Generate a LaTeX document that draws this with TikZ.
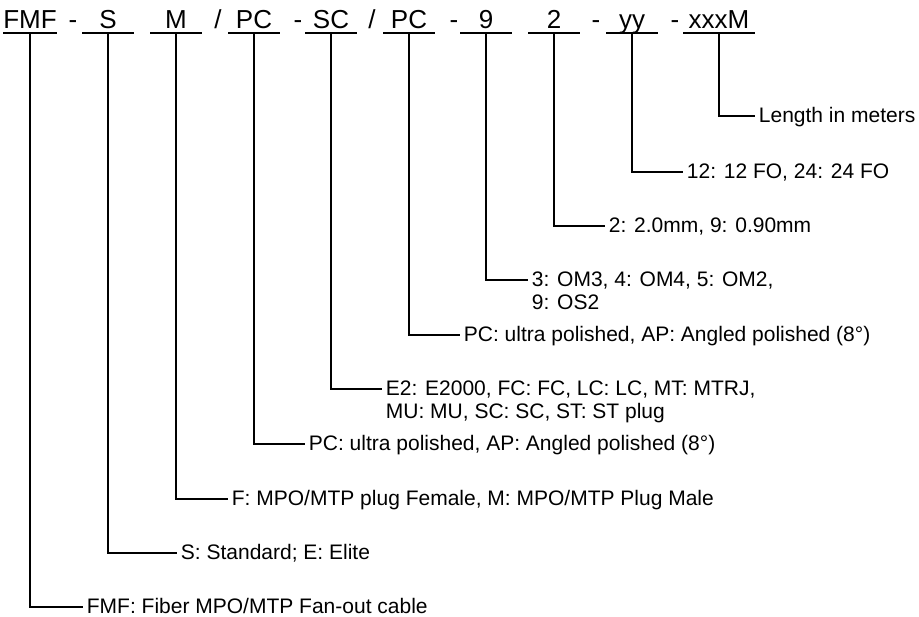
\documentclass[tikz,border=0pt]{standalone}
\usepackage{fontspec}
\setmainfont{Liberation Sans}
\usetikzlibrary{calc}
\usetikzlibrary{positioning}

\begin{document}
\begin{tikzpicture}[x=0.5pt, y=-0.5pt, line width=0.9pt]
    \tikzset{
        every node/.style={inner sep=0pt},
        code/.style={font=\fontsize{13}{15}\selectfont, anchor=base},
        desc/.style={font=\fontsize{10.5}{11.5}\selectfont, anchor=base west, align=left},
        twolines/.style={desc, yshift=-11.5pt}
    }
    \useasboundingbox (0,0) rectangle (919,616);

    % fields of the order code, underlined
    \foreach \n/\x/\w/\t in {fmf/30/27/FMF, std/108/26/S, gen/176/26/M, pa/254/26/PC, con/331/26/SC,
                             pb/409/26/PC, fib/486/26/9, dia/554/26/2, cnt/632/26/yy, len/719/36/xxxM} {
        \node [code] (\n) at (\x,28) {\t};
        \draw (\x-\w,33) -- (\x+\w,33);
        \coordinate (\n-top) at (\x,33);
    }

    \node [code] (s1) at (73,28) {-};
    \node [code] (s2) at (218,28) {/};
    \node [code] (s3) at (298,28) {-};
    \node [code] (s4) at (372,28) {/};
    \node [code] (s5) at (454,28) {-};
    \node [code] (s6) at (596,28) {-};
    \node [code] (s7) at (675,28) {-};

    % ends of the leaders
    \foreach \n/\x/\y in {len/755/116, cnt/683/172, dia/605/226, fib/528/280, pb/460/335,
                          con/382/389, pa/305/444, gen/228/499, std/177/553, fmf/83/607} {
        \coordinate (\n-end) at (\x,\y);
        \draw (\n-top) |- (\n-end);
    }

    \node [desc] (len-d) at ($(len-end)+(3,6)$) {Length in meters};
    \node [desc] (cnt-d) at ($(cnt-end)+(3,6)$) {12: 12 FO, 24: 24 FO};
    \node [desc] (dia-d) at ($(dia-end)+(3,6)$) {2: 2.0mm, 9: 0.90mm};
    \node [twolines] (fib-d) at ($(fib-end)+(3,6)$) {3: OM3, 4: OM4, 5: OM2,\\9: OS2};
    \node [desc] (pb-d) at ($(pb-end)+(3,6)$) {PC: ultra polished, AP: Angled polished (8°)};
    \node [twolines] (con-d) at ($(con-end)+(3,6)$) {E2: E2000, FC: FC, LC: LC, MT: MTRJ,\\MU: MU, SC: SC, ST: ST plug};
    \node [desc] (pa-d) at ($(pa-end)+(3,6)$) {PC: ultra polished, AP: Angled polished (8°)};
    \node [desc] (gen-d) at ($(gen-end)+(3,6)$) {F: MPO/MTP plug Female, M: MPO/MTP Plug Male};
    \node [desc] (std-d) at ($(std-end)+(3,6)$) {S: Standard; E: Elite};
    \node [desc] (fmf-d) at ($(fmf-end)+(3,6)$) {FMF: Fiber MPO/MTP Fan-out cable};

\end{tikzpicture}
\end{document}
